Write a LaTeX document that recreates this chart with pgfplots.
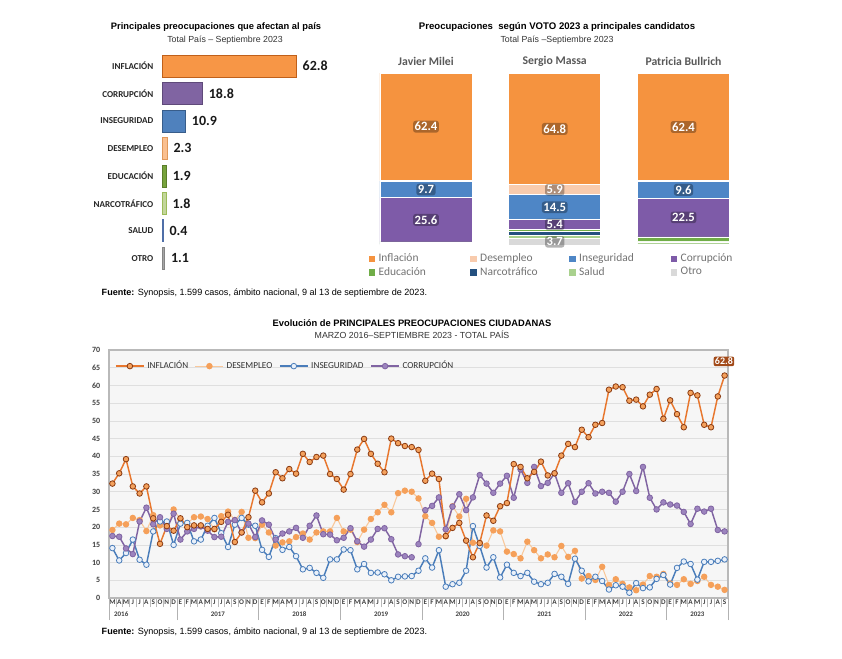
\documentclass[border=0pt]{standalone}
\usepackage{fontspec}
\setmainfont{Liberation Sans}
\newfontfamily\carlito{Carlito}
\usepackage{pgfplots}
\usepackage{pgfplotstable}
\pgfplotsset{compat=1.18}

\definecolor{cInf}{HTML}{F79646}
\definecolor{cInfD}{HTML}{C0601A}
\definecolor{cCor}{HTML}{8064A2}
\definecolor{cCorD}{HTML}{5F4A7A}
\definecolor{cIns}{HTML}{4F81BD}
\definecolor{cInsD}{HTML}{385D8A}
\definecolor{cDes}{HTML}{FAC090}
\definecolor{cDesD}{HTML}{E0985A}
\definecolor{cEdu}{HTML}{77A33C}
\definecolor{cEduD}{HTML}{5A7E2A}
\definecolor{cNarL}{HTML}{C3D69B}
\definecolor{cNarLD}{HTML}{9BBB59}
\definecolor{cSalB}{HTML}{4F6FA8}
\definecolor{cOtrG}{HTML}{A6A6A6}
% stacked chart
\definecolor{sInf}{HTML}{F5933F}
\definecolor{sDes}{HTML}{F8CBAD}
\definecolor{sIns}{HTML}{4E86C6}
\definecolor{sCor}{HTML}{7E5BA8}
\definecolor{sEdu}{HTML}{70AD47}
\definecolor{sNar}{HTML}{24507F}
\definecolor{sSal}{HTML}{A9D18E}
\definecolor{sOtr}{HTML}{D9D9D9}
% line chart
\definecolor{lInf}{HTML}{E8772E}
\definecolor{lInfM}{HTML}{F4A15D}
\definecolor{lInfB}{HTML}{8A3B12}
\definecolor{lDes}{HTML}{F9C89B}
\definecolor{lDesM}{HTML}{F5A05A}
\definecolor{lIns}{HTML}{4A7DBA}
\definecolor{lInsM}{HTML}{EAF1FA}
\definecolor{lCor}{HTML}{8064A2}
\definecolor{lCorM}{HTML}{9C84BE}

\tikzset{
  lbl/.style={font=\carlito\bfseries\fontsize{9.5}{10}\selectfont, text=white,
    fill=black, fill opacity=0.3, text opacity=1, rounded corners=2pt, inner sep=1.2pt},
  hdr/.style={font=\carlito\bfseries\fontsize{8.8}{10}\selectfont, text=black!65},
  yr/.style={font=\carlito\bfseries\fontsize{5.2}{6}\selectfont, text=black!75, yshift=-12pt},
}

\pgfplotstableread{
i inf des ins cor
0 32.3 19.2 14.1 17.5
1 35.2 21 10.6 17.3
2 39.2 20.8 12.7 14
3 31.5 22.6 16.5 12.4
4 29.5 22 10.8 21.6
5 31.5 18.9 9.4 25.5
6 22.5 23.4 18.8 20.8
7 15.3 20.5 21.6 22.8
8 20.3 19.8 21.6 19.5
9 19 25 15 23.8
10 22.5 22.2 21 16.5
11 20 21 21.2 18.8
12 20.5 22.8 16 19.5
13 20.5 23 16.5 20.2
14 19.5 22.3 20.4 19
15 19.5 19.4 22.6 17.2
16 21.5 23.1 18.3 17.3
17 23.5 24.4 14.4 21.5
18 15.8 22 20.7 22
19 18.5 24.3 22.6 18.5
20 22.8 17 20.7 21
21 30.3 16.9 20.4 17.2
22 27 20.7 13.6 21.9
23 29.5 18.5 11.6 20.7
24 35.5 14.8 16.9 16.5
25 33.8 15.7 13.6 18.2
26 36.4 16 14.4 18.8
27 35.1 17.2 11.8 19.8
28 40.7 18.2 8.1 17
29 38.4 16.5 8.5 20.4
30 39.8 18.5 7.1 23.3
31 40.2 18.8 5.7 18
32 35 18.8 10.9 17.9
33 33.6 22.6 10.9 16.3
34 30.6 18.8 13.7 17
35 35 19.3 13.5 19.7
36 41.9 15.8 8.1 16
37 44.9 19.3 9.6 14.5
38 40.7 22.3 7.1 16.5
39 37.9 24.2 7.2 19.5
40 35.5 26.3 6.7 19.7
41 45 24.2 5 16.6
42 43.7 29.6 6 12.3
43 42.9 30.3 6.1 11.8
44 42.6 30 6.2 11.5
45 41.8 28.1 7.7 15.2
46 33.1 23.1 11.2 24.8
47 35.1 21.2 8.6 26
48 33.6 17.3 13.5 28.4
49 17.5 17.4 3.2 19.4
50 19.8 25.9 3.9 25.8
51 21.2 23 4.3 29.3
52 16.2 28 7.7 24.8
53 11.5 15.6 20.3 28.4
54 15.5 15.6 14.7 34.7
55 23.3 14.8 8.6 32.3
56 21.8 19.1 11.5 29.7
57 25.9 18.8 5.8 32.3
58 26.8 13.1 9.4 34.5
59 37.8 12.4 7.1 28.3
60 37 11.2 6.2 36.3
61 33.8 15.9 7.1 32.5
62 35.6 13.5 4.6 37
63 38.5 11.2 3.9 31.6
64 34.6 12.3 4.3 32.5
65 35.2 11.5 6.8 35.2
66 40.2 14.7 6 29.7
67 43.5 11.6 4 32.4
68 42.6 13.3 11.1 27.1
69 47.5 5.5 7.7 30
70 45.4 6.2 4.7 32.4
71 48.9 5.1 6 29.5
72 49.4 8.8 4.8 30
73 58.8 3.7 2.4 29.7
74 59.7 5.3 3.6 27.2
75 59.5 4 3.2 30
76 55.7 3 1.5 35
77 56 2.2 4.2 30.2
78 54.1 3.8 2.8 37
79 57.4 6.2 3 28.3
80 59 6 5.4 25
81 50.6 6.8 6.5 27
82 55.8 4.1 3.8 26.4
83 51.9 3.7 8.5 26.1
84 48.2 5.3 10.3 24.3
85 57.9 4 9.6 20.9
86 57.2 4.8 5.2 25.2
87 48.9 6 10.2 24.4
88 48.2 3.7 10.2 25.2
89 56.9 3.2 10.5 19.2
90 62.8 2.3 10.9 18.8
}\evol

\pgfplotstableread{
x inf des ins cor edu nar sal otr
0 62.4 0.5 9.7 25.6 0.4 0.6 0.3 0.5
1 64.8 5.9 14.5 5.4 1.2 2.8 1.6 3.7
2 62.4 0.5 9.6 22.5 2.5 0.4 1.2 0.6
}\votos

\begin{document}
\begin{tikzpicture}
\path[use as bounding box] (0,0) rectangle (631.5pt,-493.5pt);
\fill[white] (0,0) rectangle (631.5pt,-493.5pt);

% ---------- titles and sources
\node[font=\bfseries\fontsize{7}{8}\selectfont] at (162pt,-20.25pt) {Principales preocupaciones que afectan al país};
\node[font=\fontsize{6.6}{8}\selectfont, text=black!80] at (168.75pt,-30pt) {Total País – Septiembre 2023};
\node[font=\bfseries\fontsize{7.2}{8}\selectfont] at (417.75pt,-20.25pt) {Preocupaciones\ \ según VOTO 2023 a principales candidatos};
\node[font=\fontsize{6.6}{8}\selectfont, text=black!80] at (417.75pt,-30pt) {Total País –Septiembre 2023};
\node[anchor=west, font=\fontsize{6.8}{8}\selectfont] at (72.75pt,-219.75pt) {\textbf{Fuente:} Synopsis, 1.599 casos, ámbito nacional, 9 al 13 de septiembre de 2023.};
\node[font=\bfseries\fontsize{7}{8}\selectfont] at (309pt,-242.25pt) {Evolución de PRINCIPALES PREOCUPACIONES CIUDADANAS};
\node[font=\fontsize{6.6}{8}\selectfont, text=black!80] at (309pt,-251.25pt) {MARZO 2016–SEPTIEMBRE 2023 - TOTAL PAÍS};
\node[anchor=west, font=\fontsize{6.8}{8}\selectfont] at (72.75pt,-474pt) {\textbf{Fuente:} Synopsis, 1.599 casos, ámbito nacional, 9 al 13 de septiembre de 2023.};

% ---------- horizontal bars
\begin{axis}[
  at={(121.5pt,-39.2pt)}, anchor=north west,
  scale only axis, width=128pt, height=164.7pt,
  xbar, bar width=16.5pt, bar shift=0pt,
  xmin=0, xmax=80, ymin=-0.5, ymax=7.5, y dir=reverse,
  ytick={0,...,7},
  yticklabels={INFLACIÓN,CORRUPCIÓN,INSEGURIDAD,DESEMPLEO,EDUCACIÓN,NARCOTRÁFICO,SALUD,OTRO},
  xtick=\empty, axis line style={draw=none}, major tick length=0pt,
  yticklabel style={font=\carlito\bfseries\fontsize{6.8}{8}\selectfont, text=black!85, xshift=-3pt},
  nodes near coords,
  every node near coord/.append style={font=\carlito\bfseries\fontsize{10.5}{12}\selectfont, text=black!90, xshift=1.5pt},
  /pgf/number format/fixed, /pgf/number format/fixed zerofill,
  /pgf/number format/precision=1, /pgf/number format/assume math mode=true,
]
\addplot[fill=cInf, draw=cInfD] coordinates {(62.8,0)};
\addplot[fill=cCor, draw=cCorD] coordinates {(18.8,1)};
\addplot[fill=cIns, draw=cInsD] coordinates {(10.9,2)};
\addplot[fill=cDes, draw=cDesD] coordinates {(2.3,3)};
\addplot[fill=cEdu, draw=cEduD] coordinates {(1.9,4)};
\addplot[fill=cNarL, draw=cNarLD] coordinates {(1.8,5)};
\addplot[fill=cSalB, draw=cSalB] coordinates {(0.4,6)};
\addplot[fill=cOtrG, draw=cOtrG!80!black] coordinates {(1.1,7)};
\end{axis}

% ---------- stacked bars by vote
\begin{axis}[
  at={(271.2pt,-183.75pt)}, anchor=south west,
  scale only axis, width=289.7pt, height=129pt,
  ybar stacked, bar width=69pt,
  xmin=-0.5, xmax=2.5, ymin=0, ymax=100,
  axis line style={draw=none}, xtick=\empty, ytick=\empty, major tick length=0pt,
  clip=false,
  every axis plot/.append style={draw=white, line width=0.6pt},
  legend style={at={(0.015,-0.035)}, anchor=north west, draw=none, fill=none,
    legend columns=4, font=\carlito\fontsize{8.6}{9}\selectfont, text=black!55,
    row sep=-1.5pt, inner sep=0pt},
  legend cell align=left,
  legend image code/.code={\fill[#1] (0pt,-2.8pt) rectangle (5.6pt,2.8pt);},
  reverse legend,
]
\addplot[fill=sOtr] table[x=x,y=otr]{\votos}; \addlegendentry{Otro}
\addplot[fill=sSal] table[x=x,y=sal]{\votos}; \addlegendentry{Salud}
\addplot[fill=sNar] table[x=x,y=nar]{\votos}; \addlegendentry{Narcotráfico}
\addplot[fill=sEdu] table[x=x,y=edu]{\votos}; \addlegendentry{Educación}
\addplot[fill=sCor] table[x=x,y=cor]{\votos}; \addlegendentry{Corrupción}
\addplot[fill=sIns] table[x=x,y=ins]{\votos}; \addlegendentry{\makebox[66pt][l]{Inseguridad}}
\addplot[fill=sDes] table[x=x,y=des]{\votos}; \addlegendentry{\makebox[64pt][l]{Desempleo}}
\addplot[fill=sInf] table[x=x,y=inf]{\votos}; \addlegendentry{\makebox[66pt][l]{Inflación}}
\node[hdr] at (axis cs:0,107) {Javier Milei};
\node[hdr] at (axis cs:1,107) {Sergio Massa};
\node[hdr] at (axis cs:2,107) {Patricia Bullrich};
\coordinate (a1) at (axis cs:0,68.8);
\coordinate (a2) at (axis cs:0,32.25);
\coordinate (a3) at (axis cs:0,14.6);
\coordinate (b1) at (axis cs:1,67.5);
\coordinate (b2) at (axis cs:1,32.15);
\coordinate (b3) at (axis cs:1,21.95);
\coordinate (b4) at (axis cs:1,12);
\coordinate (b5) at (axis cs:1,1.85);
\coordinate (c1) at (axis cs:2,68.6);
\coordinate (c2) at (axis cs:2,32.1);
\coordinate (c3) at (axis cs:2,16.05);
\end{axis}
\node[lbl] at (a1) {62.4};
\node[lbl] at (a2) {9.7};
\node[lbl] at (a3) {25.6};
\node[lbl] at (b1) {64.8};
\node[lbl] at (b2) {5.9};
\node[lbl] at (b3) {14.5};
\node[lbl] at (b4) {5.4};
\node[lbl] at (b5) {3.7};
\node[lbl] at (c1) {62.4};
\node[lbl] at (c2) {9.6};
\node[lbl] at (c3) {22.5};

% ---------- evolution line chart
\begin{axis}[
  at={(81.75pt,-448.5pt)}, anchor=south west,
  scale only axis, width=464.25pt, height=186pt,
  xmin=-0.5, xmax=90.5, ymin=0, ymax=70,
  ytick={0,5,...,70},
  xtick={0,...,90},
  xticklabels={M,A,M,J,J,A,S,O,N,D,
    E,F,M,A,M,J,J,A,S,O,N,D, E,F,M,A,M,J,J,A,S,O,N,D,
    E,F,M,A,M,J,J,A,S,O,N,D, E,F,M,A,M,J,J,A,S,O,N,D,
    E,F,M,A,M,J,J,A,S,O,N,D, E,F,M,A,M,J,J,A,S,O,N,D,
    E,F,M,A,M,J,J,A,S},
  minor xtick={-0.5,0.5,...,90.5},
  extra x ticks={-0.5,9.5,21.5,33.5,45.5,57.5,69.5,81.5,90.5},
  extra x tick labels={},
  extra x tick style={grid=none, major tick length=16.5pt, tick style={gray!60, line width=0.5pt}},
  xtick pos=lower, ytick pos=left, tick align=outside,
  major tick length=0pt, minor tick length=6.75pt,
  minor tick style={gray!55, line width=0.4pt},
  ymajorgrids, grid style={gray!25, line width=0.5pt},
  axis background/.style={fill=gray!7},
  axis line style={gray!50, line width=0.6pt},
  y axis line style={gray!55, line width=1.2pt},
  xticklabel style={font=\carlito\bfseries\fontsize{5.4}{6}\selectfont, text=black!75, inner sep=1pt},
  yticklabel style={font=\carlito\bfseries\fontsize{6}{7}\selectfont, text=black!75, xshift=-3pt},
  /pgf/number format/assume math mode=true,
  clip=false,
  legend style={at={(0.003,0.935)}, anchor=west, draw=none, fill=none,
    legend columns=4, font=\carlito\fontsize{6.9}{7}\selectfont, text=black!80,
    /tikz/every even column/.append style={column sep=3pt}},
  legend image code/.code={\draw[mark repeat=2, mark phase=2, #1] plot coordinates {(0cm,0cm) (0.37cm,0cm) (0.74cm,0cm)};},
]
\addplot[color=lDes, line width=0.8pt, mark=*, mark size=2pt,
  mark options={fill=lDesM, draw=lDesM}, forget plot] table[x=i,y=des]{\evol};
\addplot[color=lIns, line width=1.1pt, mark=*, mark size=2.1pt,
  mark options={fill=lInsM, draw=lIns, line width=0.6pt}, forget plot] table[x=i,y=ins]{\evol};
\addplot[color=lCor, line width=1.1pt, mark=*, mark size=2.1pt,
  mark options={fill=lCorM, draw=lCor, line width=0.6pt},
  restrict x to domain=0:44, forget plot] table[x=i,y=cor]{\evol};
\addplot[forget plot, color=lCor, line width=1.1pt, mark=*, mark size=2.1pt,
  mark options={fill=lCorM, draw=lCor, line width=0.6pt},
  restrict x to domain=45:90] table[x=i,y=cor]{\evol};
\addplot[color=lInf, line width=1.1pt, mark=*, mark size=2.1pt,
  mark options={fill=lInfM, draw=lInfB, line width=0.6pt}] table[x=i,y=inf]{\evol};
\addlegendentry{INFLACIÓN}
\addlegendimage{color=lDes, line width=0.8pt, mark=*, mark size=2pt, mark options={fill=lDesM, draw=lDesM}}
\addlegendentry{DESEMPLEO}
\addlegendimage{color=lIns, line width=1.1pt, mark=*, mark size=2.1pt, mark options={fill=lInsM, draw=lIns, line width=0.6pt}}
\addlegendentry{INSEGURIDAD}
\addlegendimage{color=lCor, line width=1.1pt, mark=*, mark size=2.1pt, mark options={fill=lCorM, draw=lCor, line width=0.6pt}}
\addlegendentry{CORRUPCIÓN}
\node[fill=lInfB!75!lInf, text=white, rounded corners=1.5pt, inner sep=1pt,
  font=\carlito\bfseries\fontsize{7.5}{8}\selectfont] at (axis cs:89.9,66.8) {62.8};
\node[yr] at (axis cs:1.3,0) {2016};
\node[yr] at (axis cs:15.5,0) {2017};
\node[yr] at (axis cs:27.5,0) {2018};
\node[yr] at (axis cs:39.5,0) {2019};
\node[yr] at (axis cs:51.5,0) {2020};
\node[yr] at (axis cs:63.5,0) {2021};
\node[yr] at (axis cs:75.5,0) {2022};
\node[yr] at (axis cs:86,0) {2023};
\end{axis}
\end{tikzpicture}
\end{document}
